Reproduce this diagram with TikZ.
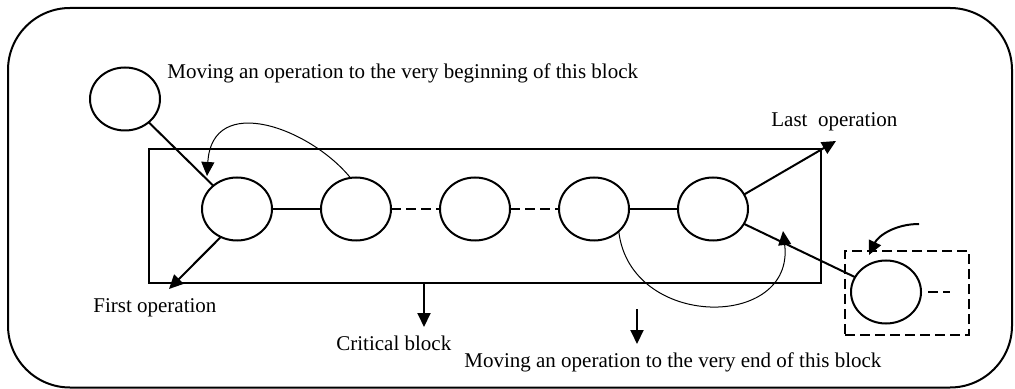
\documentclass[tikz,border=0pt]{standalone}
\usepackage{fontspec}
\setmainfont{Liberation Serif}
\usetikzlibrary{arrows.meta,positioning,shapes.geometric}
\tikzset{
  op/.style={draw,ellipse,line width=1pt,inner sep=0pt,outer sep=0pt,
             minimum width=35pt,minimum height=31.5pt},
  link/.style={line width=1pt},
  dashlink/.style={link,dash pattern=on 5pt off 2.5pt},
  arr/.style={line width=1pt,-{Triangle[length=7pt,width=6.5pt]}},
  thinarr/.style={line width=0.5pt,-{Triangle[length=7pt,width=6.5pt]}},
  lbl/.style={font=\fontsize{10.5}{12}\selectfont,inner sep=0pt,
              anchor=base west},
}

\begin{document}
\begin{tikzpicture}[x=0.5pt,y=-0.5pt,node distance=24.5pt]
  \useasboundingbox (0,0) rectangle (1015,389);
  % outer frame
  \draw[line width=1pt,rounded corners=31pt] (8,8) rectangle (1012,387.5);

  % critical block and its operations
  \node[draw,line width=1pt,inner sep=0pt,outer sep=0pt,
        minimum width=336pt,minimum height=67pt] (BLOCK) at (485,216) {};
  \node[op] (OP1) at (237,209) {};
  \node[op,right=of OP1] (OP2) {};
  \node[op,right=of OP2] (OP3) {};
  \node[op,right=of OP3] (OP4) {};
  \node[op,right=of OP4] (OP5) {};
  \node[op] (OP_NEW) at (125,99) {};
  % operation outside the block
  \node[draw,line width=1pt,dash pattern=on 5pt off 2.5pt,inner sep=0pt,
        minimum width=62pt,minimum height=42pt] (BOX) at (907,293) {};
  \node[op] (OP_OUT) at (886,292) {};

  % labels
  \node[lbl] (TXT_BEGIN) at (167,79) {Moving an operation to the very beginning of this block};
  \node[lbl] (TXT_LAST)  at (771,127) {Last\ \ operation};
  \node[lbl] (TXT_FIRST) at (93,313)  {First operation};
  \node[lbl] (TXT_CRIT)  at (336,350) {Critical block};
  \node[lbl] (TXT_END)   at (464,367) {Moving an operation to the very end of this block};

  % chain
  \draw[link]     (OP_NEW) -- (OP1);
  \draw[link]     (OP1) -- (OP2);
  \draw[dashlink] (OP2) -- (OP3);
  \draw[dashlink] (OP3) -- (OP4);
  \draw[link]     (OP4) -- (OP5);
  \draw[link]     (OP5) -- (OP_OUT);
  \coordinate (OUT_TAIL) at (950,292);
  \draw[dashlink,shorten <=3.5pt] (OP_OUT) -- (OUT_TAIL);

  % pointers to the labels
  \coordinate (FIRST_TIP) at (169,289);
  \draw[arr] (OP1.-120) -- (FIRST_TIP);
  \coordinate (LAST_TIP) at (836,141);
  \draw[arr] (OP5.25) -- (LAST_TIP);
  \coordinate (CRIT_TIP) at (424,327);
  \draw[arr] (BLOCK.south -| CRIT_TIP) -- (CRIT_TIP);
  \coordinate (END_FROM) at (637,309);
  \coordinate (END_TIP)  at (637,344);
  \draw[arr] (END_FROM) -- (END_TIP);

  % moves
  \coordinate (BACK_TIP) at (207,176);
  \draw[thinarr] (OP2.100) .. controls (310,128) and (212,92) .. (BACK_TIP);
  \coordinate (FWD_TIP) at (783,231);
  \draw[thinarr] (OP4.-42) .. controls (630,330) and (795,330) .. (FWD_TIP);
  \coordinate (IN_FROM) at (919,224);
  \coordinate (IN_TIP)  at (869,255);
  \draw[arr] (IN_FROM) .. controls (895,224) and (878,236) .. (IN_TIP);
\end{tikzpicture}
\end{document}
